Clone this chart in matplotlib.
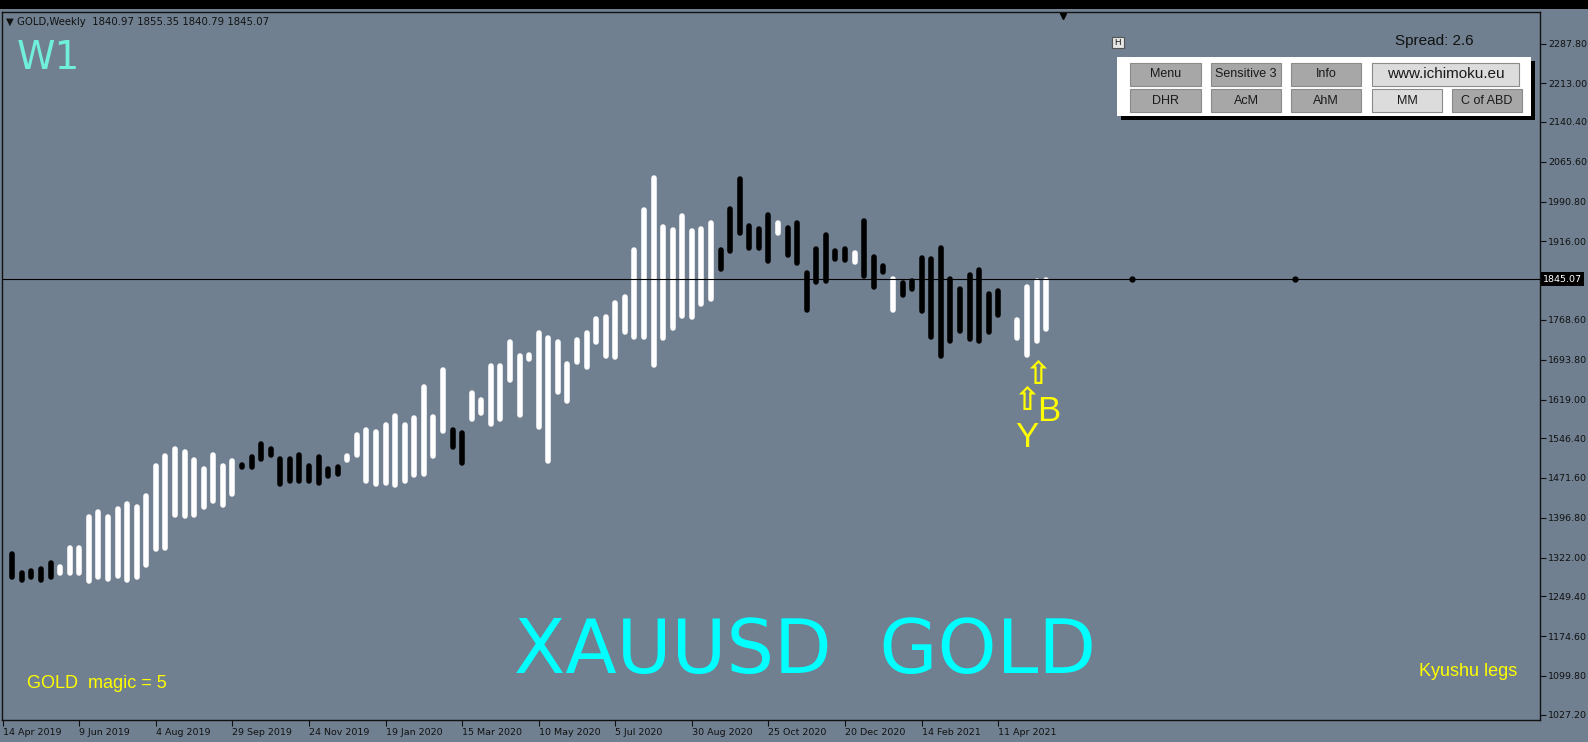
import matplotlib
matplotlib.use("Agg")
import matplotlib.pyplot as plt
from matplotlib import transforms
from matplotlib.patches import Rectangle

W, H = 1588, 742
BG = "#708090"

# weekly range bars, bar 1 = week after 14 Apr 2019
bar_low = [
    1279.9, 1275.5, 1281.1, 1274.9, 1281.1, 1287.4, 1288.0, 1288.0, 1272.4, 1279.9,
    1276.1, 1283.0, 1274.9, 1279.9, 1303.7, 1332.5, 1335.6, 1396.4, 1394.5, 1396.4,
    1412.0, 1422.7, 1415.8, 1436.4, 1486.5, 1486.5, 1502.0, 1509.7, 1455.0, 1460.4,
    1460.4, 1460.4, 1456.6, 1470.9, 1474.0, 1500.3, 1509.7, 1460.4, 1454.7, 1456.6,
    1452.8, 1460.4, 1472.7, 1474.0, 1507.2, 1554.8, 1525.3, 1494.0, 1576.7, 1587.9,
    1567.9, 1576.7, 1650.0, 1585.4, 1690.1, 1561.7, 1499.1, 1627.4, 1611.8, 1683.8,
    1674.4, 1721.4, 1696.3, 1694.4, 1740.1, 1730.7, 1732.0, 1679.4, 1728.9, 1748.3,
    1770.2, 1768.3, 1793.4, 1802.8, 1859.1, 1893.6, 1926.7, 1898.0, 1898.0, 1874.8,
    1927.0, 1886.1, 1870.4, 1782.8, 1835.4, 1837.2, 1878.0, 1876.1, 1872.9, 1846.6,
    1826.0, 1852.9, 1782.8, 1811.0, 1821.6, 1780.9, 1732.0, 1695.7, 1724.5, 1742.1,
    1727.7, 1724.5, 1740.2, 1772.8, 1773.4, 1728.9, 1697.6, 1724.5, 1745.7,
]
bar_high = [
    1333.1, 1297.4, 1301.8, 1306.2, 1316.8, 1309.3, 1344.4, 1344.4, 1403.2, 1412.0,
    1403.2, 1418.9, 1427.7, 1421.4, 1443.3, 1499.7, 1518.5, 1531.0, 1524.7, 1510.9,
    1493.4, 1520.3, 1499.7, 1507.8, 1500.3, 1515.3, 1541.0, 1530.3, 1512.8, 1512.8,
    1519.1, 1499.0, 1516.6, 1492.8, 1497.2, 1517.8, 1557.3, 1566.0, 1562.3, 1575.4,
    1593.0, 1575.4, 1588.6, 1646.8, 1590.5, 1678.7, 1566.7, 1561.6, 1636.2, 1623.0,
    1687.5, 1687.5, 1732.6, 1705.7, 1707.0, 1748.3, 1738.9, 1732.6, 1690.0, 1735.1,
    1748.3, 1774.6, 1779.6, 1804.6, 1815.9, 1905.5, 1980.0, 2040.1, 1948.7, 1943.0,
    1968.1, 1940.5, 1944.3, 1954.9, 1905.5, 1981.9, 2037.6, 1949.9, 1944.3, 1970.0,
    1955.0, 1946.8, 1955.0, 1862.3, 1907.4, 1932.4, 1903.0, 1907.4, 1898.6, 1959.4,
    1892.4, 1874.8, 1851.0, 1843.5, 1846.6, 1889.2, 1887.4, 1908.0, 1851.0, 1831.0,
    1858.5, 1866.7, 1822.9, 1828.5, 1782.8, 1773.4, 1836.0, 1846.6, 1849.0,
]
# W = white (up) bar, K = black (down) bar
bar_dir = ("KKKKKWWWWW" "WWWWWWWWWW" "WWWWKKKKKK" "KKKKKWWWWW" "WWWWWWKKWW"
           "WWWWWWWWWW" "WWWWWWWWWW" "WWWWKKKKKK" "WKKKKKKKWK" "KKWKKKKKKK"
           "KKKKKWWWW")

date_labels = ["14 Apr 2019", "9 Jun 2019", "4 Aug 2019", "29 Sep 2019", "24 Nov 2019",
               "19 Jan 2020", "15 Mar 2020", "10 May 2020", "5 Jul 2020", "30 Aug 2020",
               "25 Oct 2020", "20 Dec 2020", "14 Feb 2021", "11 Apr 2021"]
price_ticks = [2287.80, 2213.00, 2140.40, 2065.60, 1990.80, 1916.00, 1768.60, 1693.80,
               1619.00, 1546.40, 1471.60, 1396.80, 1322.00, 1249.40, 1174.60, 1099.80, 1027.20]
last_price = 1845.07
future_marks = [118, 135]
# signal annotations: (bar, price, text)
signals = [(108.1, 1665, "⇧"), (107.0, 1616, "⇧"), (109.3, 1597, "B"), (107.0, 1548, "Y")]


def fx(px):
    return px / W


def fy(py):
    return 1 - py / H


fig = plt.figure(figsize=(W / 100, H / 100), dpi=100, facecolor=BG)
# top black band
fig.add_artist(Rectangle((0, fy(9)), 1, 9 / H, transform=fig.transFigure,
                         facecolor="black", edgecolor="none"))

ax = fig.add_axes([fx(2), 1 - 720 / H, (1540 - 2) / W, (720 - 12) / H])
ax.set_facecolor(BG)
ymin, ymax = 1016.9, 2347.0
ax.set_xlim(-0.076, 160.6)
ax.set_ylim(ymin, ymax)

# bars with round caps, trimmed so caps end at the high/low
pad = 2.6 * (ymax - ymin) / 708
xs = list(range(1, len(bar_low) + 1))
cols = ["white" if d == "W" else "black" for d in bar_dir]
lc = ax.vlines(xs, [l + pad for l in bar_low], [h - pad for h in bar_high],
               colors=cols, linewidth=4.0)
lc.set_capstyle("round")

# current price line + markers
ax.axhline(last_price, color="black", lw=0.8)
ax.plot(future_marks, [last_price] * len(future_marks), "o", color="black", ms=3.5)
ax.plot([110.8], [0.994], marker="v", color="black", ms=5,
        transform=transforms.blended_transform_factory(ax.transData, ax.transAxes),
        clip_on=False)

# signals
for bx, py, s in signals:
    if s == "⇧":
        ax.text(bx, py, s, color="#FFFF00", fontsize=23, ha="center", va="center",
                family="DejaVu Sans", fontweight="bold")
    else:
        ax.text(bx, py, s, color="#FFFF00", fontsize=25, ha="center", va="center",
                family="Liberation Sans")

# axes styling
for sp in ax.spines.values():
    sp.set_color("#111111")
    sp.set_linewidth(1)
ax.yaxis.tick_right()
ax.set_yticks(price_ticks)
ax.set_yticklabels([f"{v:.2f}" for v in price_ticks])
ax.set_xticks(range(0, 8 * len(date_labels), 8))
ax.set_xticklabels(date_labels)
ax.tick_params(axis="both", direction="out", length=4, width=0.8, color="#111111",
               labelsize=6.8, labelcolor="#111111", pad=2)
plt.setp(ax.get_xticklabels(), ha="left")

# last price label
ax.text(1.002, last_price, "1845.07", color="white", fontsize=6.8, va="center", ha="left",
        transform=transforms.blended_transform_factory(ax.transAxes, ax.transData),
        bbox=dict(boxstyle="square,pad=0.25", facecolor="black", edgecolor="none"))

# texts
fig.text(fx(6), fy(22), "▼ GOLD,Weekly  1840.97 1855.35 1840.79 1845.07", fontsize=7.3,
         color="#111111", va="center", family="DejaVu Sans")
fig.text(fx(17), fy(69), "W1", fontsize=28, color="#70F0DC", va="baseline")
fig.text(fx(805), fy(673), "XAUUSD  GOLD", fontsize=54, color="#00FFFF",
         ha="center", va="baseline")
fig.text(fx(27), fy(684), "GOLD  magic = 5", fontsize=13, color="#FFFF00", va="center",
         family="Liberation Sans")
fig.text(fx(1517), fy(671), "Kyushu legs", fontsize=13, color="#FFFF00", va="center",
         ha="right", family="Liberation Sans")
fig.text(fx(1434), fy(41), "Spread: 2.6", fontsize=11, color="#111111", va="center",
         ha="center", family="Liberation Sans")

# panel with buttons
fig.add_artist(Rectangle((fx(1121), fy(119.5)), (1535 - 1121) / W, (119.5 - 61) / H,
                         transform=fig.transFigure, facecolor="black", edgecolor="none"))
fig.add_artist(Rectangle((fx(1117), fy(115.5)), (1531 - 1117) / W, (115.5 - 57.5) / H,
                         transform=fig.transFigure, facecolor="white", edgecolor="none"))
# H toggle
fig.add_artist(Rectangle((fx(1112), fy(48)), 11.5 / W, 11 / H, transform=fig.transFigure,
                         facecolor="#e6e6e6", edgecolor="#555555", lw=0.8))
fig.text(fx(1117.8), fy(42.5), "H", fontsize=6.5, color="#111111", ha="center", va="center",
         family="Liberation Sans")


def button(x0, y0, x1, y1, label, face, size=9):
    fig.add_artist(Rectangle((fx(x0), fy(y1)), (x1 - x0) / W, (y1 - y0) / H,
                             transform=fig.transFigure, facecolor=face,
                             edgecolor="#8a8a8a", lw=0.8))
    fig.text(fx((x0 + x1) / 2), fy((y0 + y1) / 2), label, fontsize=size, color="#1a1a1a",
             ha="center", va="center", family="Liberation Sans")


GRAY, LIGHT = "#a7a7a7", "#dcdcdc"
button(1130, 63, 1201, 85.5, "Menu", GRAY)
button(1211, 63, 1281, 85.5, "Sensitive 3", GRAY)
button(1291, 63, 1361, 85.5, "Info", GRAY)
button(1372, 63, 1519, 85.5, "www.ichimoku.eu", LIGHT, size=11)
button(1130, 89, 1201, 112, "DHR", GRAY)
button(1211, 89, 1281, 112, "AcM", GRAY)
button(1291, 89, 1361, 112, "AhM", GRAY)
button(1372, 89, 1442, 112, "MM", LIGHT)
button(1452, 89, 1522, 112, "C of ABD", GRAY)

fig.savefig("out.png", dpi=100, facecolor=BG)
